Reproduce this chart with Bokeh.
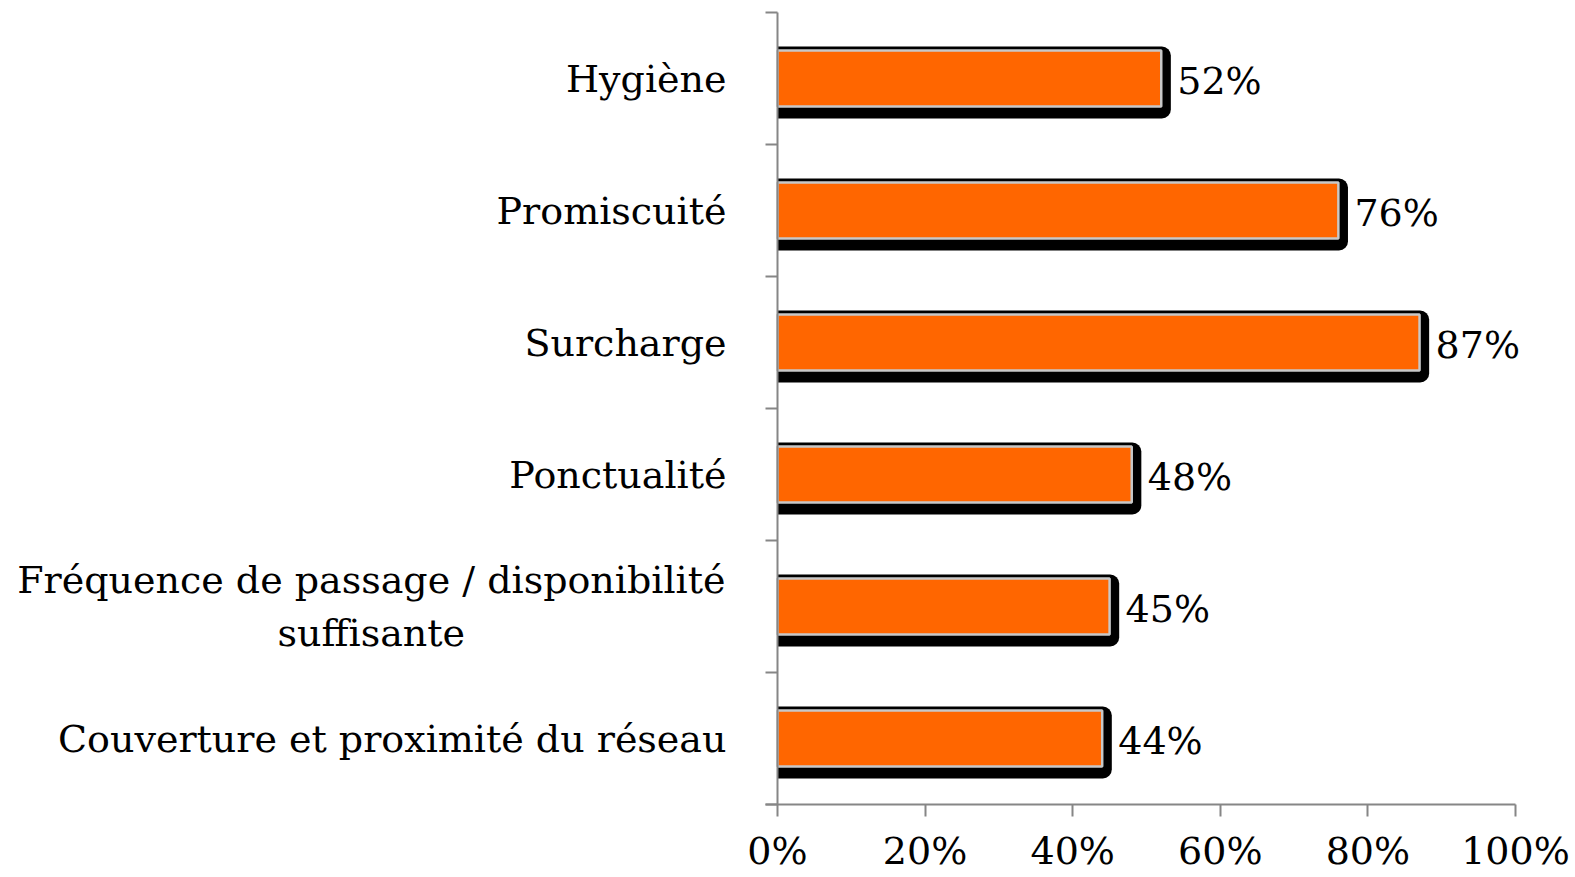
from bokeh.plotting import figure
from bokeh.models import FixedTicker, ColumnDataSource, Range1d, Label
from bokeh.embed import file_html
from bokeh.resources import INLINE
from bokeh.core.properties import value

categories = [
    "Hygiène",
    "Promiscuité",
    "Surcharge",
    "Ponctualité",
    "Fréquence de passage / disponibilité\nsuffisante",
    "Couverture et proximité du réseau",
]
values = [52, 76, 87, 48, 45, 44]
x_ticks = [0, 20, 40, 60, 80, 100]
x_tick_labels = ["0%", "20%", "40%", "60%", "80%", "100%"]

FONT = "DejaVu Serif"
FS = "38px"
n = len(categories)
ypos = [n - 0.5 - i for i in range(n)]

W, H = 1575, 877
# layout: frame covers whole canvas; axes are placed at x=0 / y=0
PX_X = 7.38          # pixels per percent
AX_LEFT = 777        # pixel position of the value axis origin
PX_Y = 132.0         # pixels per category band
TOP = 12             # pixel position of the top of the category axis
x0 = -AX_LEFT / PX_X
x1 = x0 + W / PX_X
y1 = n + TOP / PX_Y
y0 = y1 - H / PX_Y

src = ColumnDataSource(dict(
    y=ypos,
    y_sh=[y - 0.03 for y in ypos],
    v=values,
    v_sh=[v + 1.3 for v in values],
    lbl=[f"{v}%" for v in values],
))

p = figure(width=W, height=H, output_backend="svg", toolbar_location=None,
           x_range=Range1d(x0, x1), y_range=Range1d(y0, y1),
           min_border_left=0, min_border_right=0, min_border_top=0, min_border_bottom=0)

p.hbar(y="y_sh", left=0, right="v_sh", height=0.545, source=src,
       fill_color="black", line_color=None, border_radius=(0, 9, 9, 0))
p.hbar(y="y", left=0, right="v", height=0.424, source=src,
       fill_color="#FF6600", line_color="#C8C8C8", line_width=2.5)
p.text(x="v", y="y", text="lbl", source=src, x_offset=16, y_offset=2,
       text_font=value(FONT), text_font_size=value(FS), text_baseline="middle",
       text_align="left", text_color="black")

p.xgrid.visible = False
p.ygrid.visible = False
p.outline_line_color = None
p.background_fill_color = "white"
p.border_fill_color = "white"

ax = p.xaxis[0]
ax.fixed_location = 0
ax.bounds = (-12 / PX_X, 100)
ax.ticker = FixedTicker(ticks=x_ticks)
ax.major_label_overrides = {t: l for t, l in zip(x_ticks, x_tick_labels)}
ax.major_tick_out = 12
ax.major_tick_in = 0
ax.minor_tick_out = 0
ax.axis_line_color = "#868686"
ax.axis_line_width = 2
ax.major_tick_line_color = "#868686"
ax.major_tick_line_width = 2
ax.major_label_text_font = FONT
ax.major_label_text_font_size = FS
ax.major_label_text_color = "black"
ax.major_label_standoff = 12

ay = p.yaxis[0]
ay.fixed_location = 0
ay.bounds = (0, n)
ay.ticker = FixedTicker(ticks=ypos, minor_ticks=list(range(n + 1)))
ay.major_label_overrides = {y: ("" if "\n" in c else c) for y, c in zip(ypos, categories)}
ay.major_tick_out = 0
ay.major_tick_in = 0
ay.minor_tick_out = 12
ay.minor_tick_in = 0
ay.axis_line_color = "#868686"
ay.axis_line_width = 2
ay.minor_tick_line_color = "#868686"
ay.minor_tick_line_width = 2
ay.major_label_text_font = FONT
ay.major_label_text_font_size = FS
ay.major_label_text_color = "black"
ay.major_label_standoff = 39

for y, c in zip(ypos, categories):
    if "\n" in c:
        p.add_layout(Label(x=0, y=y, text=c, x_offset=-52, anchor="center_right",
                           text_align="center", text_baseline="middle",
                           text_font=FONT, text_font_size=FS, text_color="black"))

open("out.html", "w").write(file_html(p, INLINE))
